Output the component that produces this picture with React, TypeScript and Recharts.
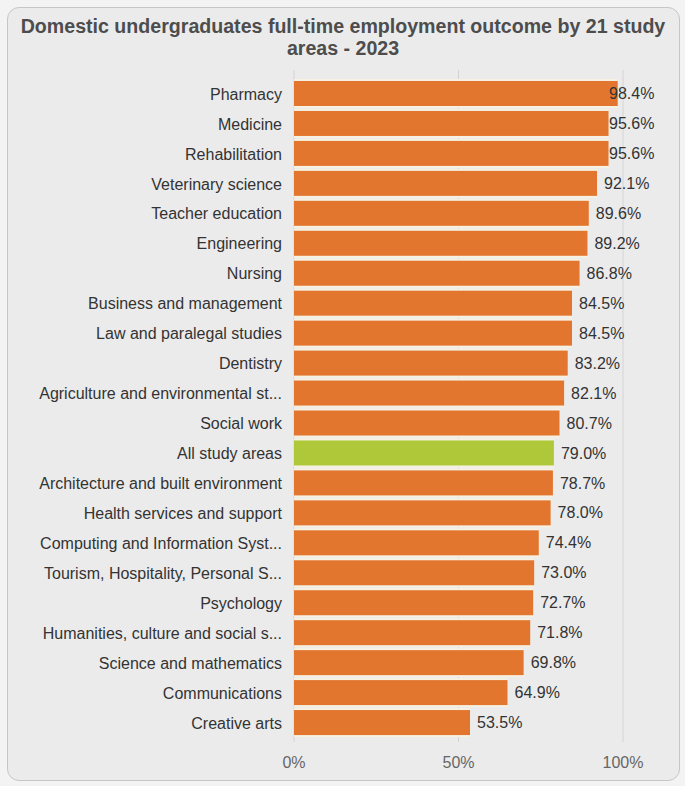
import { Bar, BarChart, CartesianGrid, Cell, LabelList, XAxis, YAxis } from 'recharts';

const categories = [
  "Pharmacy",
  "Medicine",
  "Rehabilitation",
  "Veterinary science",
  "Teacher education",
  "Engineering",
  "Nursing",
  "Business and management",
  "Law and paralegal studies",
  "Dentistry",
  "Agriculture and environmental st...",
  "Social work",
  "All study areas",
  "Architecture and built environment",
  "Health services and support",
  "Computing and Information Syst...",
  "Tourism, Hospitality, Personal S...",
  "Psychology",
  "Humanities, culture and social s...",
  "Science and mathematics",
  "Communications",
  "Creative arts",
]
const values = [98.4, 95.6, 95.6, 92.1, 89.6, 89.2, 86.8, 84.5, 84.5, 83.2, 82.1, 80.7, 79.0, 78.7, 78.0, 74.4, 73.0, 72.7, 71.8, 69.8, 64.9, 53.5]
const xTicks = [0, 50, 100]
const highlight = "All study areas"

const ORANGE = "#e3762f"
const GREEN = "#afc83a"
const FONT = '"Liberation Sans", Arial, sans-serif'

const data = categories.map((name, i) => ({ name, value: values[i] }))

const BarShape = (props: any) => {
  const { x, y, width, height, fill } = props
  return (
    <g>
      <rect x={x} y={y - 2} width={width} height={height + 4} fill="#f6f1e2" />
      <rect x={x} y={y} width={width} height={height} fill={fill} />
    </g>
  )
}

const ValueLabel = (props: any) => {
  const { x, y, width, height, value } = props
  const start = Math.min(x + width + 7, 609)
  return (
    <text x={start} y={y + height / 2} dy="0.35em" fill="#333" fontSize={16} fontFamily={FONT}>
      {Number(value).toFixed(1)}%
    </text>
  )
}

export default function App() {
  return (
    <div style={{ position: 'absolute', left: 0, top: 0, width: 685, height: 786, background: '#f3f3f3' }}>
      <div style={{ position: 'absolute', left: 7, top: 7, width: 671, height: 772, border: '1px solid #c6c6c6', borderRadius: 12, background: '#ebebeb' }} />
      <div style={{ position: 'absolute', left: 8, top: 15, width: 670, textAlign: 'center', fontFamily: FONT, fontWeight: 'bold', fontSize: 19.6, lineHeight: '22px', color: '#4d4d4d' }}>
        Domestic undergraduates full-time employment outcome by 21 study areas - 2023
      </div>
      <div style={{ position: 'absolute', left: 0, top: 0 }}>
        <BarChart
          width={685}
          height={786}
          data={data}
          layout="vertical"
          margin={{ top: 70, right: 62, bottom: 14, left: 0 }}
        >
          <CartesianGrid horizontal={false} stroke="#d4d4d4" />
          <XAxis
            type="number"
            domain={[0, 100]}
            ticks={xTicks}
            tickFormatter={(v) => `${v}%`}
            axisLine={false}
            tickLine={false}
            tickSize={0}
            tickMargin={15}
            height={30}
            tick={{ fill: '#666', fontSize: 16, fontFamily: FONT }}
          />
          <YAxis
            type="category"
            dataKey="name"
            width={294}
            axisLine={false}
            tickLine={false}
            tickSize={0}
            tickMargin={12}
            interval={0}
            padding={{ top: 9, bottom: 4 }}
            tick={{ fill: '#333', fontSize: 16, fontFamily: FONT }}
          />
          <Bar dataKey="value" barSize={25} shape={BarShape} isAnimationActive={false}>
            {data.map((d, i) => (
              <Cell key={`cell-${i}`} fill={d.name === highlight ? GREEN : ORANGE} />
            ))}
            <LabelList dataKey="value" content={ValueLabel} />
          </Bar>
        </BarChart>
      </div>
    </div>
  )
}
